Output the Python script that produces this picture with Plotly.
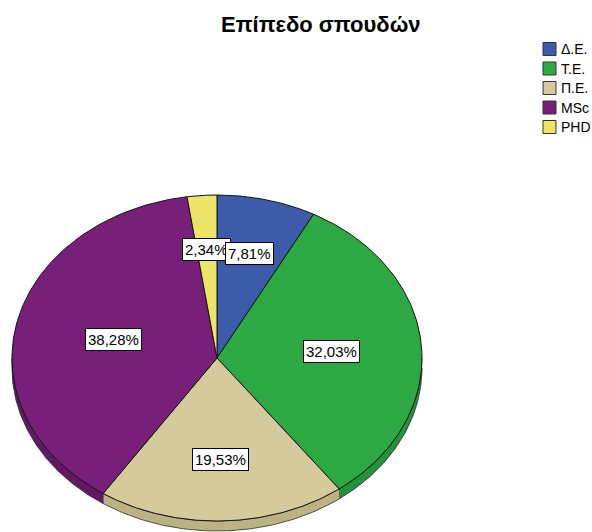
import numpy as np
import plotly.graph_objects as go

# Level of studies: share of respondents per category (%)
categories = ["Δ.Ε.", "Τ.Ε.", "Π.Ε.", "MSc", "PHD"]
percentages = [7.81, 32.03, 19.53, 38.28, 2.34]
face_colors = ["#3D5BA9", "#2EA844", "#D4CA9B", "#781F7A", "#EFE46A"]
side_colors = ["#2F4A8E", "#23923A", "#BDB283", "#631865", "#D4C955"]

title_text = "Επίπεδο σπουδών"

# Tilted pie geometry (pixel space)
CX, CY = 217.0, 358.0
RX, RY = 205.0, 163.0
DEPTH = 10.0
W, H = 592, 532
FONT = "Liberation Sans, Arial, sans-serif"


def ellipse_pt(t, r=1.0):
    t = np.asarray(t, dtype=float)
    return CX + RX * r * np.sin(t), CY - RY * r * np.cos(t)


fracs = np.array(percentages) / np.sum(percentages)
ends = np.cumsum(fracs) * 2 * np.pi
starts = ends - fracs * 2 * np.pi

fig = go.Figure()

# Visible rim of the pie (front half only)
for i in range(len(categories)):
    lo = max(starts[i], np.pi / 2)
    hi = min(ends[i], 3 * np.pi / 2)
    if hi <= lo:
        continue
    ts = np.linspace(lo, hi, 80)
    xs, ys = ellipse_pt(ts)
    px = np.concatenate([xs, xs[::-1]])
    py = np.concatenate([ys, ys[::-1] + DEPTH])
    fig.add_trace(go.Scatter(
        x=px, y=py, mode="lines", fill="toself",
        fillcolor=side_colors[i],
        line=dict(color="#2a2a2a", width=0.8),
        hoverinfo="skip", showlegend=False,
    ))

# Top faces of the slices
for i in range(len(categories)):
    ts = np.linspace(starts[i], ends[i], 120)
    xs, ys = ellipse_pt(ts)
    px = np.concatenate([[CX], xs, [CX]])
    py = np.concatenate([[CY], ys, [CY]])
    fig.add_trace(go.Scatter(
        x=px, y=py, mode="lines", fill="toself",
        fillcolor=face_colors[i],
        line=dict(color="#141414", width=1),
        name=categories[i],
        hoverinfo="skip", showlegend=False,
    ))

# Percentage labels at the slice centroids
annotations = []
for i in reversed(range(len(categories))):
    half = (ends[i] - starts[i]) / 2
    mid = starts[i] + half
    rc = (2.0 / 3.0) * np.sin(half) / half
    lx, ly = ellipse_pt(mid, rc)
    label = f"{percentages[i]:.2f}".replace(".", ",") + "%"
    annotations.append(dict(
        x=float(lx), y=float(ly), xref="x", yref="y",
        text=label, showarrow=False,
        font=dict(family=FONT, size=15, color="#000000"),
        bgcolor="#FFFFFF", bordercolor="#000000", borderwidth=1, borderpad=2,
    ))

# Title
annotations.append(dict(
    x=321, y=24, xref="x", yref="y", text=f"<b>{title_text}</b>",
    showarrow=False,
    font=dict(family=FONT, size=22, color="#000000"),
))

# Legend: square swatches with category names
LEG_X, LEG_Y0, LEG_STEP = 549.5, 49.0, 19.5
leg_y = [LEG_Y0 + k * LEG_STEP for k in range(len(categories))]
fig.add_trace(go.Scatter(
    x=[LEG_X] * len(categories), y=leg_y, mode="markers",
    marker=dict(symbol="square", size=13, color=face_colors,
                line=dict(color="#333333", width=1)),
    hoverinfo="skip", showlegend=False,
))
for k, name in enumerate(categories):
    annotations.append(dict(
        x=LEG_X + 9, y=leg_y[k], xref="x", yref="y", text=name,
        xanchor="left", showarrow=False,
        font=dict(family=FONT, size=14, color="#000000"),
    ))

fig.update_layout(
    width=W, height=H,
    margin=dict(l=0, r=0, t=0, b=0),
    paper_bgcolor="#FFFFFF", plot_bgcolor="#FFFFFF",
    xaxis=dict(range=[0, W], visible=False, fixedrange=True),
    yaxis=dict(range=[H, 0], visible=False, fixedrange=True),
    annotations=annotations,
    showlegend=False,
)

fig.write_html("out.html")
